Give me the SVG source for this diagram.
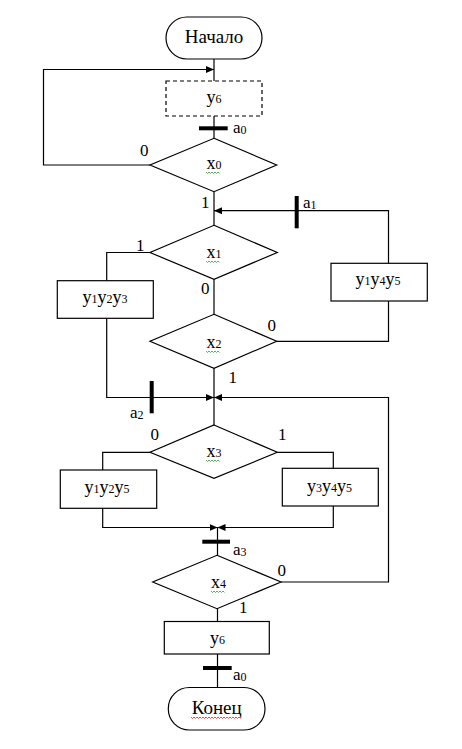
<svg xmlns="http://www.w3.org/2000/svg" width="462" height="749" viewBox="0 0 462 749">
<style>
text{font-family:"Liberation Serif","Times New Roman",serif;fill:#000}
.t{font-size:19px;text-anchor:middle}
.m{font-size:18px;text-anchor:middle}
.s{font-size:12px}
.n{font-size:17px}
.a{font-size:17px}
.sh{fill:#fff;stroke:#000;stroke-width:1.2}
.dash{stroke-dasharray:4 3}
.c{fill:none;stroke:#000;stroke-width:1.2}
.bar{stroke:#000;stroke-width:4;fill:none}
.wg{fill:none;stroke:#2e9e2e;stroke-width:0.8}
.wr{fill:none;stroke:#e02020;stroke-width:0.8}
</style>
<defs>
<marker id="ar" markerUnits="userSpaceOnUse" markerWidth="9" markerHeight="8" refX="8" refY="4" orient="auto">
<path d="M0,0.5 L8,4 L0,7.5 Z" fill="#000"/>
</marker>
</defs>
<rect width="462" height="749" fill="#fff"/>
<g id="connectors">
<path class="c" d="M214,59 V81"/>
<path class="c" d="M150,165 H43.5 V69.5 H214" marker-end="url(#ar)"/>
<path class="c" d="M214,116 V138.3"/>
<path class="c" d="M214,191.7 V225.3"/>
<path class="c" d="M276.7,341.3 H388.5 V301"/>
<path class="c" d="M388.5,263.3 V210.7 H214" marker-end="url(#ar)"/>
<path class="c" d="M150,252.5 H106.7 V280.7"/>
<path class="c" d="M106.7,318.3 V397.5 H214" marker-end="url(#ar)"/>
<path class="c" d="M214,279.3 V314.3"/>
<path class="c" d="M214,368.3 V425"/>
<path class="c" d="M281,582 H388.5 V397.5 H214" marker-end="url(#ar)"/>
<path class="c" d="M150,452.3 H102.7 V470"/>
<path class="c" d="M277.3,452.3 H333.3 V468.3"/>
<path class="c" d="M102.7,508.3 V527.5 H217.5" marker-end="url(#ar)"/>
<path class="c" d="M333.3,506 V527.5 H217.5" marker-end="url(#ar)"/>
<path class="c" d="M217.5,527.5 V555.3"/>
<path class="c" d="M217.5,608.7 V621.5"/>
<path class="c" d="M217.5,654 V687.5"/>
<path class="bar" d="M199,128.3 H227.7"/>
<path class="bar" d="M296.7,196 V228.3"/>
<path class="bar" d="M151.7,381 V413.3"/>
<path class="bar" d="M202.3,541.7 H230"/>
<path class="bar" d="M203,668 H231.7"/>
<text class="a" x="233" y="133">a<tspan class="s" dy="1">0</tspan></text>
<text class="a" x="303" y="208">a<tspan class="s" dy="1">1</tspan></text>
<text class="a" x="130" y="418">a<tspan class="s" dy="1">2</tspan></text>
<text class="a" x="233" y="555">a<tspan class="s" dy="1">3</tspan></text>
<text class="a" x="233" y="680">a<tspan class="s" dy="1">0</tspan></text>
<text class="n" x="140" y="155.5">0</text>
<text class="n" x="201" y="207.5">1</text>
<text class="n" x="136" y="250.5">1</text>
<text class="n" x="201" y="294">0</text>
<text class="n" x="267.5" y="330.5">0</text>
<text class="n" x="228.5" y="382.5">1</text>
<text class="n" x="150.5" y="440">0</text>
<text class="n" x="278" y="440">1</text>
<text class="n" x="277.5" y="575.5">0</text>
<text class="n" x="239" y="612.5">1</text>
</g>
<g id="start">
<rect class="sh" x="166" y="17" width="96" height="42" rx="21"/>
<text class="t" x="214" y="43">Начало</text>
</g>
<g id="y6a">
<rect class="sh dash" x="166" y="81" width="96" height="35"/>
<text class="m" x="214" y="103">y<tspan class="s">6</tspan></text>
</g>
<g id="x0">
<polygon class="sh" points="214,138.3 276.7,165 214,191.7 150,165"/>
<text class="m" x="214" y="169">x<tspan class="s">0</tspan></text>
<path class="wg" d="M206,172 l1.5,1.5 l1.5,-1.5 l1.5,1.5 l1.5,-1.5 l1.5,1.5 l1.5,-1.5 l1.5,1.5 l1.5,-1.5 l1.5,1.5"/>
</g>
<g id="x1">
<polygon class="sh" points="214,225.3 277.3,252.5 214,279.3 150,252.5"/>
<text class="m" x="214" y="258">x<tspan class="s">1</tspan></text>
<path class="wg" d="M206,261 l1.5,1.5 l1.5,-1.5 l1.5,1.5 l1.5,-1.5 l1.5,1.5 l1.5,-1.5 l1.5,1.5 l1.5,-1.5 l1.5,1.5"/>
</g>
<g id="y1y2y3">
<rect class="sh" x="57.3" y="280.7" width="96" height="37.6"/>
<text class="m" x="105" y="303">y<tspan class="s">1</tspan>y<tspan class="s">2</tspan>y<tspan class="s">3</tspan></text>
</g>
<g id="y1y4y5">
<rect class="sh" x="331" y="263.3" width="96.3" height="37.7"/>
<text class="m" x="378" y="285">y<tspan class="s">1</tspan>y<tspan class="s">4</tspan>y<tspan class="s">5</tspan></text>
</g>
<g id="x2">
<polygon class="sh" points="214,314.3 276.7,341.3 214,368.3 150,341.3"/>
<text class="m" x="214" y="348">x<tspan class="s">2</tspan></text>
<path class="wg" d="M206,351 l1.5,1.5 l1.5,-1.5 l1.5,1.5 l1.5,-1.5 l1.5,1.5 l1.5,-1.5 l1.5,1.5 l1.5,-1.5 l1.5,1.5"/>
</g>
<g id="x3">
<polygon class="sh" points="214,425 277.3,452.3 214,478.3 150,452.3"/>
<text class="m" x="214" y="457">x<tspan class="s">3</tspan></text>
<path class="wg" d="M206,460 l1.5,1.5 l1.5,-1.5 l1.5,1.5 l1.5,-1.5 l1.5,1.5 l1.5,-1.5 l1.5,1.5 l1.5,-1.5 l1.5,1.5"/>
</g>
<g id="y1y2y5">
<rect class="sh" x="60.3" y="470" width="96.4" height="38.3"/>
<text class="m" x="107" y="493">y<tspan class="s">1</tspan>y<tspan class="s">2</tspan>y<tspan class="s">5</tspan></text>
</g>
<g id="y3y4y5">
<rect class="sh" x="282.3" y="468.3" width="96" height="37.7"/>
<text class="m" x="329.5" y="491.5">y<tspan class="s">3</tspan>y<tspan class="s">4</tspan>y<tspan class="s">5</tspan></text>
</g>
<g id="x4">
<polygon class="sh" points="217,555.3 281,582 217,608.7 152.7,582"/>
<text class="m" x="218.5" y="588">x<tspan class="s">4</tspan></text>
<path class="wg" d="M211,591 l1.5,1.5 l1.5,-1.5 l1.5,1.5 l1.5,-1.5 l1.5,1.5 l1.5,-1.5 l1.5,1.5 l1.5,-1.5 l1.5,1.5"/>
</g>
<g id="y6b">
<rect class="sh" x="164.3" y="621.5" width="105" height="32.5"/>
<text class="m" x="217.5" y="643.5">y<tspan class="s">6</tspan></text>
</g>
<g id="end">
<rect class="sh" x="168.3" y="687.5" width="96.7" height="42.5" rx="21"/>
<text class="t" x="216.7" y="714">Конец</text>
<path class="wr" d="M191,717 l1.5,1.5 l1.5,-1.5 l1.5,1.5 l1.5,-1.5 l1.5,1.5 l1.5,-1.5 l1.5,1.5 l1.5,-1.5 l1.5,1.5 l1.5,-1.5 l1.5,1.5 l1.5,-1.5 l1.5,1.5 l1.5,-1.5 l1.5,1.5 l1.5,-1.5 l1.5,1.5 l1.5,-1.5 l1.5,1.5 l1.5,-1.5 l1.5,1.5 l1.5,-1.5 l1.5,1.5 l1.5,-1.5 l1.5,1.5 l1.5,-1.5 l1.5,1.5 l1.5,-1.5 l1.5,1.5 l1.5,-1.5 l1.5,1.5 l1.5,-1.5 l1.5,1.5"/>
</g>
</svg>
